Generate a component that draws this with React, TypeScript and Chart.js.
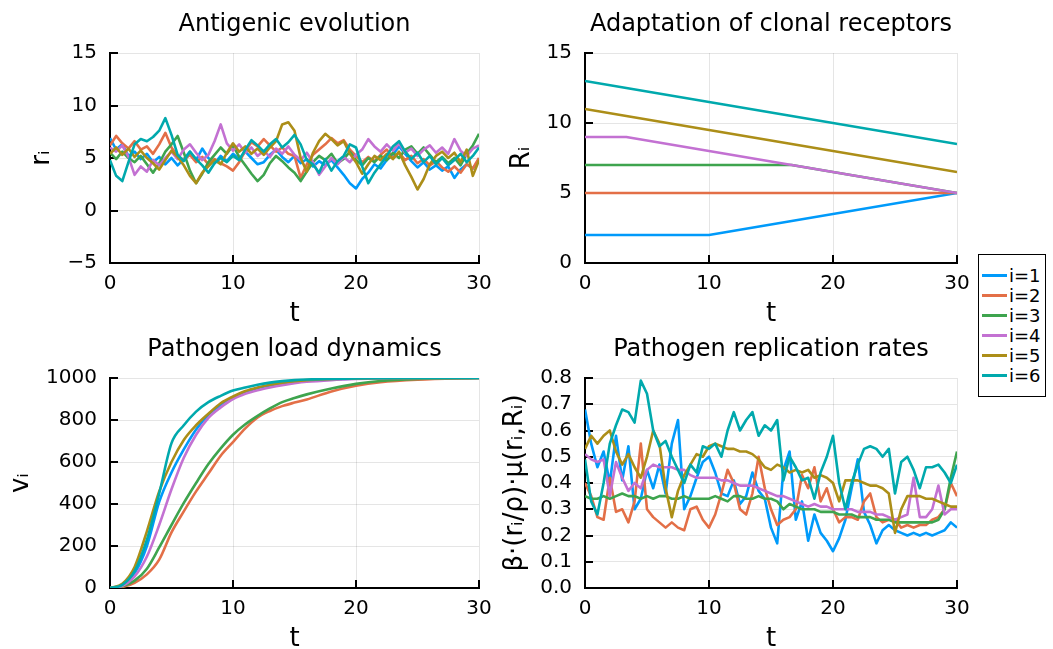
import React, { useEffect, useRef } from "react";
import { Chart, registerables } from "chart.js";

Chart.register(...registerables);

const FONT = "'DejaVu Sans', sans-serif";

const SERIES_NAMES = ["i=1", "i=2", "i=3", "i=4", "i=5", "i=6"];
const SERIES_COLORS = ["#009AFA", "#E36F47", "#3EA44E", "#C371D2", "#AC8E18", "#00A9AD"];

const X_TICKS = [0, 10, 20, 30];
const X_TICK_LABELS = ["0", "10", "20", "30"];

// ---------- Antigenic evolution (r_i) ----------
const T_FINE = [
  0, 0.5, 1, 1.5, 2, 2.5, 3, 3.5, 4, 4.5,
  5, 5.5, 6, 6.5, 7, 7.5, 8, 8.5, 9, 9.5,
  10, 10.5, 11, 11.5, 12, 12.5, 13, 13.5, 14, 14.5,
  15, 15.5, 16, 16.5, 17, 17.5, 18, 18.5, 19, 19.5,
  20, 20.5, 21, 21.5, 22, 22.5, 23, 23.5, 24, 24.5,
  25, 25.5, 26, 26.5, 27, 27.5, 28, 28.5, 29, 29.5,
  30,
];
const ANTIGEN_Y_TICKS = [-5, 0, 5, 10, 15];
const ANTIGEN_Y_LABELS = ["\u22125", "0", "5", "10", "15"];
const R1 = [
  6.9, 5.8, 6.3, 5.2, 5.6, 4.9, 5.4, 4.6, 5.1, 4.4,
  5.0, 4.3, 4.9, 5.6, 4.8, 5.9, 5.0, 4.5, 5.2, 4.7,
  5.4, 4.9, 5.6, 5.0, 4.4, 4.6, 5.3, 5.8, 5.1, 4.6,
  5.2, 4.5, 4.9, 4.2, 4.7, 4.3, 4.8, 4.1, 3.4, 2.6,
  2.1, 3.0, 3.6, 4.4, 4.0, 4.8, 5.3, 6.1, 5.4, 4.7,
  4.1, 4.6, 3.9, 4.3, 3.8, 4.2, 3.1, 3.9, 4.4, 4.0,
  4.8,
];
const R2 = [
  6.2, 7.1, 6.4, 5.9, 6.6, 5.8, 6.1, 5.4, 6.3, 7.4,
  6.0, 5.2, 4.8, 5.3, 4.6, 5.1, 4.4, 4.9, 4.5, 4.2,
  3.8, 4.6, 5.7, 6.5, 6.1, 6.8, 6.2, 5.6, 6.0, 5.4,
  5.2, 3.1, 4.4, 5.3, 5.8, 6.3, 6.9, 6.4, 6.7, 5.8,
  5.2, 4.6, 5.1, 4.7, 5.3, 5.8, 5.0, 5.5, 4.8, 5.2,
  4.5, 4.9, 4.3, 4.7, 4.1, 3.7, 4.2, 3.6, 4.4, 4.0,
  5.0,
];
const R3 = [
  5.5, 4.9, 5.6, 5.0, 4.6, 5.2, 4.4, 3.6, 4.5, 5.6,
  6.3, 7.1, 5.5, 3.8, 2.6, 3.5, 4.6, 5.3, 6.0, 5.4,
  6.2, 5.1, 4.3, 3.5, 2.8, 3.4, 4.5, 5.2, 4.7, 4.1,
  3.6, 2.8, 3.7, 4.6, 5.2, 4.8, 5.4, 4.5, 4.9, 5.6,
  4.8, 4.3, 5.0, 4.6, 5.2, 4.8, 5.5, 5.0, 5.8, 6.1,
  5.4, 6.0, 5.3, 4.6, 5.1, 4.5, 5.0, 4.3, 5.4, 6.2,
  7.3,
];
const R4 = [
  6.0, 5.6, 6.2, 5.1, 3.4, 4.2, 3.7, 4.8, 4.3, 5.0,
  5.6, 4.9, 5.8, 6.3, 5.5, 4.8, 5.3, 6.6, 8.2, 6.4,
  5.7, 6.3, 5.5, 6.0, 5.2, 5.7, 5.1, 5.9, 5.4, 6.1,
  5.3, 4.8, 5.5, 4.6, 3.4, 4.2, 5.0, 4.4, 5.1, 4.6,
  5.3, 5.8, 6.8, 6.1, 5.6, 6.3, 5.7, 6.4, 5.5, 5.9,
  5.2, 5.8, 6.2, 5.5, 6.0, 5.4, 6.8, 5.7, 5.2, 5.9,
  6.2,
];
const R5 = [
  5.4, 6.0, 5.3, 5.9, 5.1, 5.7, 5.0, 4.5, 3.9, 4.8,
  5.7, 5.1, 4.3, 3.3, 2.6, 3.6, 4.2, 4.8, 4.4, 5.5,
  6.4, 5.6, 6.1, 5.4, 5.9, 5.3, 6.0, 6.6, 8.2, 8.4,
  7.6, 5.0, 3.7, 5.5, 6.6, 7.3, 6.8, 6.2, 6.6, 5.4,
  4.6, 3.5, 4.4, 5.2, 4.8, 5.4, 4.9, 5.6, 4.3, 3.2,
  2.0, 3.0, 4.4, 5.2, 5.6, 5.0, 5.5, 4.6, 5.8, 3.3,
  4.8,
];
const R6 = [
  4.8, 3.3, 2.8, 4.6, 6.3, 6.8, 6.6, 7.0, 7.6, 8.8,
  7.2, 5.3, 4.7, 5.6, 4.9, 4.3, 3.6, 4.5, 5.0, 4.6,
  5.2, 4.8, 5.8, 6.7, 6.2, 5.6, 6.3, 6.8, 6.0, 6.5,
  7.2, 6.3, 4.8, 4.4, 3.6, 4.9, 3.8, 4.7, 5.2, 6.3,
  6.0, 4.2, 2.6, 3.6, 4.4, 5.2, 6.1, 6.6, 5.6, 4.9,
  5.5, 4.6, 5.2, 4.4, 5.0, 4.3, 4.8, 5.4, 4.6, 5.2,
  6.0,
];

// ---------- Adaptation of clonal receptors (R_i) ----------
const T_REC = [0, 3.333, 10, 16.667, 30];
const REC_Y_TICKS = [0, 5, 10, 15];
const REC_Y_LABELS = ["0", "5", "10", "15"];
const RC1 = [2, 2, 2, 3, 5];
const RC2 = [5, 5, 5, 5, 5];
const RC3 = [7, 7, 7, 7, 5];
const RC4 = [9, 9, 8, 7, 5];
const RC5 = [11, 10.5, 9.5, 8.5, 6.5];
const RC6 = [13, 12.5, 11.5, 10.5, 8.5];

// ---------- Pathogen load dynamics (v_i) ----------
const T_LOAD = [0, 1, 2, 3, 4, 5, 6, 7, 8, 9, 10, 11, 12, 13, 14, 15, 16, 18, 20, 22, 25, 30];
const LOAD_Y_TICKS = [0, 200, 400, 600, 800, 1000];
const LOAD_Y_LABELS = ["0", "200", "400", "600", "800", "1000"];
const V1 = [0, 12, 70, 200, 410, 550, 660, 755, 825, 870, 905, 930, 952, 965, 975, 983, 988, 994, 997, 999, 1000, 1000];
const V2 = [0, 5, 25, 65, 135, 265, 365, 460, 545, 630, 695, 760, 812, 843, 866, 883, 898, 936, 963, 980, 992, 1000];
const V3 = [0, 8, 35, 92, 193, 300, 405, 500, 590, 665, 730, 780, 820, 855, 885, 905, 922, 950, 972, 986, 995, 1000];
const V4 = [0, 10, 55, 150, 300, 470, 620, 730, 810, 860, 900, 925, 942, 955, 966, 975, 982, 990, 995, 998, 1000, 1000];
const V5 = [0, 20, 100, 270, 460, 600, 705, 775, 830, 880, 912, 938, 955, 968, 978, 985, 990, 995, 998, 999, 1000, 1000];
const V6 = [0, 15, 80, 230, 450, 690, 775, 840, 885, 915, 940, 955, 968, 978, 985, 990, 993, 996, 998, 999, 1000, 1000];

// ---------- Pathogen replication rates ----------
const RATE_Y_TICKS = [0, 0.1, 0.2, 0.3, 0.4, 0.5, 0.6, 0.7, 0.8];
const RATE_Y_LABELS = ["0.0", "0.1", "0.2", "0.3", "0.4", "0.5", "0.6", "0.7", "0.8"];
const B1 = [
  0.68, 0.55, 0.46, 0.52, 0.40, 0.58, 0.41, 0.54, 0.30, 0.34,
  0.45, 0.38, 0.47, 0.36, 0.55, 0.64, 0.30, 0.35, 0.42, 0.48,
  0.50, 0.44, 0.36, 0.35, 0.41, 0.32, 0.35, 0.44, 0.37, 0.34,
  0.23, 0.17, 0.45, 0.52, 0.26, 0.33, 0.18, 0.28, 0.21, 0.18,
  0.14, 0.19, 0.26, 0.38, 0.49, 0.29, 0.24, 0.17, 0.22, 0.24,
  0.22, 0.21, 0.20, 0.21, 0.20, 0.21, 0.20, 0.21, 0.22, 0.25,
  0.23,
];
const B2 = [
  0.40, 0.35, 0.27, 0.26, 0.42, 0.29, 0.30, 0.25, 0.33, 0.55,
  0.30, 0.27, 0.25, 0.23, 0.25, 0.23, 0.22, 0.30, 0.31, 0.26,
  0.23, 0.28, 0.36, 0.45, 0.40, 0.30, 0.28, 0.36, 0.50, 0.38,
  0.30, 0.24, 0.26, 0.27, 0.30, 0.43, 0.38, 0.46, 0.33, 0.38,
  0.30, 0.25, 0.27, 0.27, 0.26, 0.33, 0.36, 0.27, 0.25, 0.26,
  0.26, 0.23, 0.24, 0.23, 0.24, 0.24, 0.26, 0.27, 0.30, 0.40,
  0.35,
];
const B3 = [
  0.35, 0.34, 0.34, 0.35, 0.34, 0.35, 0.36, 0.35, 0.35, 0.34,
  0.35, 0.34, 0.35, 0.35, 0.34, 0.34, 0.35, 0.34, 0.34, 0.34,
  0.34, 0.35, 0.34, 0.33, 0.35, 0.35, 0.34, 0.34, 0.35, 0.34,
  0.34, 0.33, 0.30, 0.32, 0.31, 0.30, 0.30, 0.30, 0.29, 0.29,
  0.29, 0.28, 0.28, 0.28, 0.27, 0.27, 0.27, 0.26, 0.26, 0.26,
  0.25, 0.25, 0.25, 0.25, 0.25, 0.25, 0.25, 0.26, 0.30, 0.42,
  0.52,
];
const B4 = [
  0.51, 0.49, 0.48, 0.49, 0.35, 0.48, 0.42, 0.37, 0.40, 0.38,
  0.45, 0.47, 0.46, 0.46, 0.46, 0.45, 0.45, 0.43, 0.42, 0.42,
  0.42, 0.42, 0.41, 0.41, 0.40, 0.39, 0.39, 0.39, 0.38, 0.37,
  0.36, 0.35, 0.35, 0.34, 0.33, 0.32, 0.31, 0.32, 0.31, 0.31,
  0.30, 0.30, 0.30, 0.30, 0.29, 0.29, 0.29, 0.28, 0.28, 0.27,
  0.26, 0.27, 0.28, 0.42, 0.27, 0.27, 0.30, 0.39, 0.28, 0.30,
  0.30,
];
const B5 = [
  0.53, 0.58, 0.55, 0.58, 0.60, 0.52, 0.47, 0.51, 0.46, 0.42,
  0.50, 0.60, 0.55, 0.38, 0.27, 0.37, 0.43, 0.47, 0.51, 0.50,
  0.54, 0.55, 0.54, 0.53, 0.53, 0.52, 0.52, 0.51, 0.49, 0.46,
  0.45, 0.47, 0.46, 0.44, 0.45, 0.44, 0.45, 0.42, 0.43, 0.42,
  0.40, 0.33, 0.41, 0.41, 0.41, 0.40, 0.39, 0.39, 0.38, 0.36,
  0.21, 0.30, 0.35, 0.35, 0.35, 0.34, 0.34, 0.33, 0.32, 0.31,
  0.31,
];
const B6 = [
  0.49, 0.33, 0.28, 0.40, 0.55, 0.62, 0.68, 0.67, 0.63, 0.79,
  0.74, 0.60, 0.54, 0.56, 0.50, 0.45, 0.40, 0.47, 0.44, 0.54,
  0.53, 0.55, 0.50, 0.60, 0.67, 0.60, 0.64, 0.67, 0.58, 0.62,
  0.60, 0.64, 0.41, 0.50, 0.46, 0.41, 0.42, 0.34, 0.44, 0.50,
  0.58, 0.40, 0.30, 0.40, 0.47, 0.53, 0.54, 0.53, 0.50, 0.53,
  0.36, 0.48, 0.50, 0.45, 0.38, 0.46, 0.46, 0.47, 0.44, 0.40,
  0.47,
];

const GRID = "rgba(0,0,0,0.1)";

const innerTicks = {
  id: "innerTicks",
  beforeDatasetsDraw(chart: any) {
    const { ctx, chartArea, scales } = chart;
    ctx.save();
    ctx.strokeStyle = "#000";
    ctx.lineWidth = 2;
    ctx.beginPath();
    scales.x.ticks.forEach((t: any) => {
      const px = Math.round(scales.x.getPixelForValue(t.value));
      ctx.moveTo(px, chartArea.bottom);
      ctx.lineTo(px, chartArea.bottom - 8);
    });
    scales.y.ticks.forEach((t: any) => {
      const py = Math.round(scales.y.getPixelForValue(t.value));
      ctx.moveTo(chartArea.left, py);
      ctx.lineTo(chartArea.left + 8, py);
    });
    ctx.stroke();
    ctx.restore();
  },
};

type PanelSpec = {
  title: string;
  yTitle: string;
  yTitlePad: number;
  yWidth: number;
  padRight: number;
  yMin: number;
  yMax: number;
  yTicks: number[];
  yLabels: string[];
  t: number[];
  series: number[][];
  smooth?: boolean;
};

function buildConfig(p: PanelSpec): any {
  return {
    type: "line",
    data: {
      datasets: p.series.map((vals, k) => ({
        label: SERIES_NAMES[k],
        data: p.t.map((t, i) => ({ x: t, y: vals[i] })),
        borderColor: SERIES_COLORS[k],
        backgroundColor: SERIES_COLORS[k],
        borderWidth: 2.6,
        pointRadius: 0,
        pointHoverRadius: 0,
        fill: false,
        tension: 0,
        borderJoinStyle: "round",
        cubicInterpolationMode: p.smooth ? "monotone" : "default",
        order: p.series.length - k,
      })),
    },
    options: {
      responsive: false,
      animation: false,
      devicePixelRatio: 1,
      events: [],
      layout: { padding: { left: 0, right: p.padRight, top: 0, bottom: 0 } },
      plugins: {
        legend: { display: false },
        tooltip: { enabled: false },
        title: {
          display: true,
          text: p.title,
          color: "#000",
          font: { family: FONT, size: 24, weight: "normal", lineHeight: 1.2 },
          padding: { top: 10.7, bottom: 13.5 },
          fullSize: false,
        },
      },
      scales: {
        x: {
          type: "linear",
          min: 0,
          max: 30,
          afterFit: (s: any) => {
            s.height = 67;
          },
          afterBuildTicks: (s: any) => {
            s.ticks = X_TICKS.map((v) => ({ value: v }));
          },
          ticks: {
            color: "#000",
            font: { family: FONT, size: 20 },
            padding: 9,
            maxRotation: 0,
            autoSkip: false,
            callback: (_v: any, i: number) => X_TICK_LABELS[i],
          },
          grid: { color: GRID, lineWidth: 1, drawTicks: false },
          border: { display: true, color: "#000", width: 2 },
          title: {
            display: true,
            text: "t",
            color: "#000",
            font: { family: FONT, size: 26 },
            padding: { top: 0, bottom: 0 },
          },
        },
        y: {
          type: "linear",
          min: p.yMin,
          max: p.yMax,
          afterFit: (s: any) => {
            s.width = p.yWidth;
          },
          afterBuildTicks: (s: any) => {
            s.ticks = p.yTicks.map((v) => ({ value: v }));
          },
          ticks: {
            color: "#000",
            font: { family: FONT, size: 20 },
            padding: 13,
            autoSkip: false,
            callback: (_v: any, i: number) => p.yLabels[i],
          },
          grid: { color: GRID, lineWidth: 1, drawTicks: false },
          border: { display: true, color: "#000", width: 2 },
          title: {
            display: true,
            text: p.yTitle,
            color: "#000",
            font: { family: FONT, size: 26 },
            padding: { top: p.yTitlePad, bottom: 0 },
          },
        },
      },
    },
    plugins: [innerTicks],
  };
}

function Panel(props: { left: number; top: number; width: number; height: number; spec: PanelSpec }) {
  const ref = useRef<HTMLCanvasElement>(null);
  useEffect(() => {
    const chart = new Chart(ref.current as HTMLCanvasElement, buildConfig(props.spec));
    return () => chart.destroy();
  }, []);
  return (
    <div style={{ position: "absolute", left: props.left, top: props.top, width: props.width, height: props.height }}>
      <canvas
        ref={ref}
        width={props.width}
        height={props.height}
        style={{ display: "block", width: props.width, height: props.height }}
      />
    </div>
  );
}

const antigenSpec: PanelSpec = {
  title: "Antigenic evolution",
  yTitle: "r\u1D62",
  yTitlePad: 27,
  yWidth: 110,
  padRight: 26,
  yMin: -5,
  yMax: 15,
  yTicks: ANTIGEN_Y_TICKS,
  yLabels: ANTIGEN_Y_LABELS,
  t: T_FINE,
  series: [R1, R2, R3, R4, R5, R6],
};

const receptorSpec: PanelSpec = {
  title: "Adaptation of clonal receptors",
  yTitle: "R\u1D62",
  yTitlePad: 17,
  yWidth: 95,
  padRight: 23,
  yMin: 0,
  yMax: 15,
  yTicks: REC_Y_TICKS,
  yLabels: REC_Y_LABELS,
  t: T_REC,
  series: [RC1, RC2, RC3, RC4, RC5, RC6],
};

const loadSpec: PanelSpec = {
  title: "Pathogen load dynamics",
  yTitle: "v\u1D62",
  yTitlePad: 6,
  yWidth: 110,
  padRight: 26,
  yMin: 0,
  yMax: 1000,
  yTicks: LOAD_Y_TICKS,
  yLabels: LOAD_Y_LABELS,
  t: T_LOAD,
  series: [V1, V2, V3, V4, V5, V6],
  smooth: true,
};

const rateSpec: PanelSpec = {
  title: "Pathogen replication rates",
  yTitle: "\u03B2\u00B7(r\u1D62/\u03C1)\u00B7\u03BC(r\u1D62,R\u1D62)",
  yTitlePad: 10,
  yWidth: 95,
  padRight: 23,
  yMin: 0,
  yMax: 0.8,
  yTicks: RATE_Y_TICKS,
  yLabels: RATE_Y_LABELS,
  t: T_FINE,
  series: [B1, B2, B3, B4, B5, B6],
};

function Legend() {
  return (
    <div
      style={{
        position: "absolute",
        left: 978,
        top: 254,
        width: 68,
        height: 143,
        border: "1px solid #000",
        background: "#fff",
        boxSizing: "border-box",
      }}
    >
      {SERIES_NAMES.map((name, k) => (
        <div
          key={name}
          style={{
            position: "absolute",
            left: 3,
            top: 10.7 + 20 * k,
            height: 20,
            display: "flex",
            alignItems: "center",
          }}
        >
          <div style={{ width: 25, height: 2.6, background: SERIES_COLORS[k] }} />
          <span style={{ marginLeft: 2, font: `18px ${FONT}`, lineHeight: "20px", color: "#000" }}>{name}</span>
        </div>
      ))}
    </div>
  );
}

export default function App() {
  return (
    <div
      style={{
        position: "absolute",
        left: 0,
        top: 0,
        width: 1053,
        height: 649,
        overflow: "hidden",
        background: "#fff",
      }}
    >
      <Panel left={0} top={0} width={505} height={330} spec={antigenSpec} />
      <Panel left={490} top={0} width={490} height={330} spec={receptorSpec} />
      <Panel left={0} top={325} width={505} height={330} spec={loadSpec} />
      <Panel left={490} top={325} width={490} height={330} spec={rateSpec} />
      <Legend />
    </div>
  );
}
